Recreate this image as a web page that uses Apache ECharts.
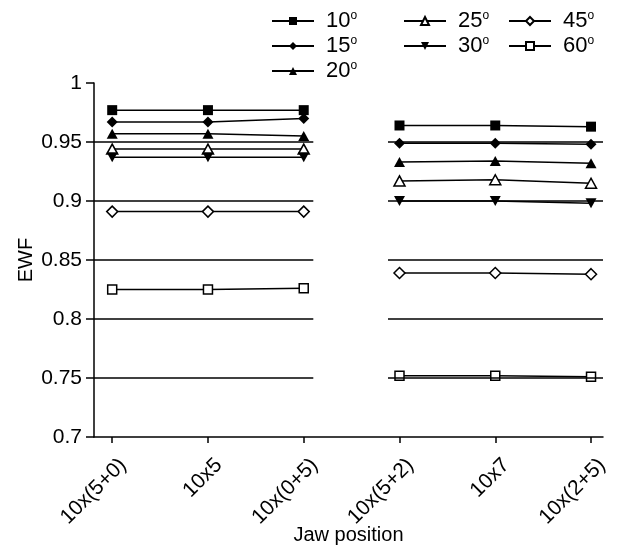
<!DOCTYPE html>
<html>
<head>
<meta charset="utf-8">
<script src="https://cdn.jsdelivr.net/npm/echarts@6/dist/echarts.min.js"></script>
<style>html,body{margin:0;padding:0;background:#fff}#c{width:619px;height:559px}</style>
</head>
<body>
<div id="c"></div>
<script>
// categories (jaw positions), positions 1..6 on the x axis
var categories = ['10x(5+0)', '10x5', '10x(0+5)', '10x(5+2)', '10x7', '10x(2+5)'];
var leftX = [1, 2, 3];
var rightX = [4, 5, 6];
// field angles
var angles = ['10', '15', '20', '25', '30', '45', '60'];
// EWF values, left group (first three jaw positions)
var left10 = [0.977, 0.977, 0.977];
var left15 = [0.967, 0.967, 0.970];
var left20 = [0.957, 0.957, 0.955];
var left25 = [0.944, 0.944, 0.944];
var left30 = [0.937, 0.937, 0.937];
var left45 = [0.891, 0.891, 0.891];
var left60 = [0.825, 0.825, 0.826];
// EWF values, right group (last three jaw positions)
var right10 = [0.964, 0.964, 0.963];
var right15 = [0.949, 0.949, 0.948];
var right20 = [0.933, 0.934, 0.932];
var right25 = [0.917, 0.918, 0.915];
var right30 = [0.900, 0.900, 0.898];
var right45 = [0.839, 0.839, 0.838];
var right60 = [0.752, 0.752, 0.751];
// reference lines drawn under each group
var refLevels = [0.75, 0.8, 0.85, 0.9, 0.95];
var refSpans = [[0.81, 3.1], [3.88, 6.125]];

var leftData = [left10, left15, left20, left25, left30, left45, left60];
var rightData = [right10, right15, right20, right25, right30, right45, right60];
var symbols = ['rect', 'diamond', 'triangle', 'triangle', 'path://M0,0 L10,0 L5,9 Z', 'diamond', 'rect'];
var sizes = [10, 11, [11, 10], [11, 10], [11, 10], 11, 9];
var filled = [true, true, true, false, true, false, false];

function pairs(xs, ys) { return xs.map(function (x, i) { return [x, ys[i]]; }); }

var FONT = 'Liberation Sans, Arial, Helvetica, sans-serif';
var series = [];
angles.forEach(function (a, k) {
  [[leftX, leftData[k]], [rightX, rightData[k]]].forEach(function (g) {
    series.push({
      name: a, type: 'line', data: pairs(g[0], g[1]),
      symbol: symbols[k], symbolSize: sizes[k], showSymbol: true,
      lineStyle: { color: '#000', width: 1.5 },
      itemStyle: { color: filled[k] ? '#000' : '#fff', borderColor: '#000', borderWidth: filled[k] ? 0 : 1.5 },
      emphasis: { disabled: true }, animation: false, z: 3
    });
  });
});
var refLines = [];
refLevels.forEach(function (lv) {
  refSpans.forEach(function (s) {
    refLines.push([{ coord: [s[0], lv] }, { coord: [s[1], lv] }]);
  });
});
series.push({
  type: 'line', data: [], silent: true, animation: false,
  markLine: { symbol: ['none', 'none'], silent: true, animation: false, label: { show: false },
    lineStyle: { color: '#000', width: 1.5, type: 'solid' }, emphasis: { disabled: true }, data: refLines },
  z: 1
});

function legendFor(names, left) {
  return {
    data: names, orient: 'vertical', left: left, top: 10, padding: 0, itemWidth: 42, itemHeight: 10, itemGap: 3,
    selectedMode: false,
    formatter: function (n) { return '{n|' + n + '}{s|o}'; },
    textStyle: {
      color: '#000', fontFamily: FONT, fontSize: 21, padding: [0, 0, 0, 7],
      rich: { n: { fontSize: 22, fontFamily: FONT, color: '#000', lineHeight: 22 },
              s: { fontSize: 12, fontFamily: FONT, color: '#000', verticalAlign: 'top' } }
    }
  };
}

var chart = echarts.init(document.getElementById('c'), null, { renderer: 'canvas' });
chart.setOption({
  animation: false,
  backgroundColor: '#fff',
  grid: { left: 94, right: 16, top: 83, bottom: 122 },
  legend: [legendFor(['10', '15', '20'], 271), legendFor(['25', '30'], 403), legendFor(['45', '60'], 508)],
  xAxis: {
    type: 'value', min: 0.81, max: 6.125,
    name: 'Jaw position', nameLocation: 'middle', nameGap: 88, nameMoveOverlap: false,
    nameTextStyle: { color: '#000', fontFamily: FONT, fontSize: 20 },
    axisLine: { show: true, lineStyle: { color: '#000', width: 1.5 } },
    axisTick: { show: true, customValues: [1, 2, 3, 4, 5, 6], length: 6, lineStyle: { color: '#000', width: 1.5 } },
    axisLabel: { customValues: [1, 2, 3, 4, 5, 6], rotate: 45, margin: 14, color: '#000', fontFamily: FONT, fontSize: 21,
      verticalAlign: 'top', padding: [5, 0, 0, 0],
      formatter: function (v) { return categories[Math.round(v) - 1]; } },
    splitLine: { show: false }
  },
  yAxis: {
    type: 'value', min: 0.7, max: 1, interval: 0.05,
    name: 'EWF', nameLocation: 'middle', nameGap: 58, nameRotate: 90, nameMoveOverlap: false,
    nameTextStyle: { color: '#000', fontFamily: FONT, fontSize: 20 },
    axisLine: { show: true, lineStyle: { color: '#000', width: 1.5 } },
    axisTick: { show: true, inside: false, length: 8, lineStyle: { color: '#000', width: 1.5 } },
    axisLabel: { margin: 12, color: '#000', fontFamily: FONT, fontSize: 21,
      formatter: function (v) { return String(+v.toFixed(2)); } },
    splitLine: { show: false }
  },
  series: series
});
</script>
</body>
</html>
